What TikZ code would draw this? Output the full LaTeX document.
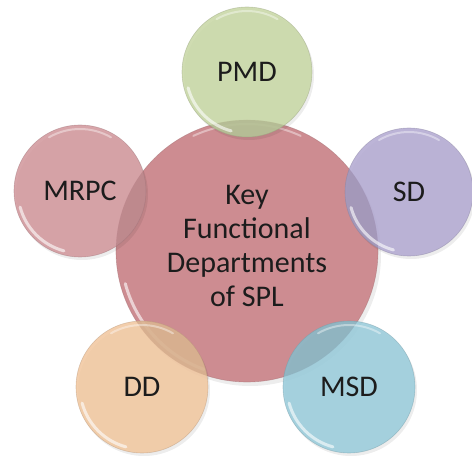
\documentclass[tikz,border=0pt]{standalone}
\usepackage{fontspec}
\setmainfont{Carlito}
\definecolor{cpink}{HTML}{CD8C91}
\definecolor{cmrpc}{HTML}{D2989D}
\definecolor{cpmd}{HTML}{C8D7A6}
\definecolor{csd}{HTML}{B3AAD2}
\definecolor{cmsd}{HTML}{9ACCDB}
\definecolor{cdd}{HTML}{F1C7A0}
\definecolor{txt}{HTML}{1C1C1C}
\tikzset{
  disc/.style={circle, inner sep=0pt, font=\fontsize{30}{34}\selectfont, text=txt, align=center, text opacity=1},
  rimhi/.style={white, line width=3pt, line cap=round, opacity=0.6},
  tophi/.style={white, line width=2pt, line cap=round, opacity=0.4},
  shade/.style={black, opacity=0.07},
}
\begin{document}
\begin{tikzpicture}[x=1pt,y=1pt]
\useasboundingbox (0,0) rectangle (472,456);
% central disc
\fill[shade] (250,201) circle[radius=131pt];
\node[disc, minimum size=262pt, fill=cpink, draw=cpink!80!black, draw opacity=0.5, line width=0.6pt] (key) at (247,205) {};
\draw[rimhi] ([shift={(195:126pt)}]key.center) arc[start angle=195, end angle=250, radius=126pt];
\draw[tophi] ([shift={(65:127pt)}]key.center) arc[start angle=65, end angle=115, radius=127pt];
\node[disc] (keytext) at (247,210) {Key\\Functional\\Departments\\of SPL};
% satellites
\foreach \n/\x/\y/\r/\c/\t in {pmd/247/384/65/cpmd/PMD, sd/409/264/64/csd/SD, msd/349/69/66/cmsd/MSD, dd/142/69/66/cdd/DD, mrpc/80/265/66/cmrpc/MRPC}{
  \fill[shade] (\x+2,\y-3) circle[radius={\r*1pt}];
  \node[disc, minimum size={2*\r*1pt}, fill=\c, fill opacity=0.88, draw=\c!75!black, draw opacity=0.45, line width=0.6pt] (\n) at (\x,\y) {\t};
  \begin{scope}
    \clip (key.center) circle[radius=131pt];
    \fill[\c!70!black, opacity=0.28] (\n.center) circle[radius={\r*1pt}];
  \end{scope}
  \draw[rimhi] ([shift={(195:{(\r-4)*1pt})}]\n.center) arc[start angle=195, end angle=255, radius={(\r-4)*1pt}];
  \draw[tophi] ([shift={(60:{(\r-4)*1pt})}]\n.center) arc[start angle=60, end angle=120, radius={(\r-4)*1pt}];
}
\end{tikzpicture}
\end{document}
